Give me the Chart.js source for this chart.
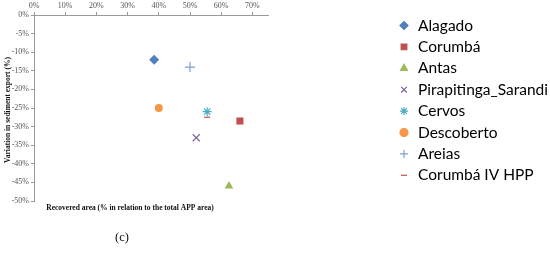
<!DOCTYPE html>
<html>
<head>
<meta charset="utf-8">
<script src="https://cdn.jsdelivr.net/npm/chart.js@4/dist/chart.umd.min.js"></script>
<style>
  html, body { margin:0; padding:0; background:#fff; }
  #wrap { position:relative; width:550px; height:255px; }
</style>
</head>
<body>
<div id="wrap"><canvas id="chart" width="550" height="255"></canvas></div>
<script>
// one point per series
const seriesNames = ['Alagado','Corumbá','Antas','Pirapitinga_Sarandi','Cervos','Descoberto','Areias','Corumbá IV HPP'];
const recoveredArea = [38.5, 66, 62.5, 52, 55.5, 40, 50, 55.5];      // x, %
const sedimentVariation = [-12, -28.5, -46, -33, -26, -25, -14, -27.5]; // y, %
const xTicks = [0, 10, 20, 30, 40, 50, 60, 70];
const yTicks = [0, -5, -10, -15, -20, -25, -30, -35, -40, -45, -50];

const colors = ['#4F81BD','#C0504D','#9BBB59','#8064A2','#4BACC6','#F79646','#7F9FD2','#C0504D'];
const styles = ['rectRot','rect','triangle','crossRot','star','circle','cross','line'];
const radii  = [5, 5, 5, 5, 4.5, 4, 5, 3];

const datasets = seriesNames.map((name,i)=>({
  label: name,
  data: [{ x: recoveredArea[i], y: sedimentVariation[i] }],
  pointStyle: styles[i],
  pointRadius: radii[i],
  pointBackgroundColor: colors[i],
  pointBorderColor: colors[i],
  pointBorderWidth: (styles[i]==='crossRot'||styles[i]==='cross'||styles[i]==='star'||styles[i]==='line') ? 1.2 : 0,
  showLine: false
}));

// legend + axis titles drawn by hand so they sit where the original has them
const extras = {
  id: 'extras',
  afterDraw(chart){
    const ctx = chart.ctx;
    ctx.save();
    // legend
    ctx.font = '15.5px Lato, "Open Sans", sans-serif';
    ctx.textBaseline = 'middle';
    ctx.textAlign = 'left';
    chart.data.datasets.forEach((ds,i)=>{
      const y = 25.5 + i*21.4;
      ctx.fillStyle = colors[i]; ctx.strokeStyle = colors[i];
      ctx.lineWidth = 1.2;
      Chart.helpers.drawPoint(ctx, { pointStyle: styles[i], radius: Math.min(radii[i], 4), rotation: 0, borderWidth: 1.2 }, 404, y);
      ctx.fillStyle = '#000';
      ctx.fillText(ds.label, 418, y);
    });
    // axis titles
    ctx.fillStyle = '#111';
    ctx.font = 'bold 7.5px "Liberation Serif", serif';
    ctx.textAlign = 'center';
    ctx.fillText('Recovered area (% in relation to the total APP area)', 130, 208);
    ctx.save();
    ctx.translate(8, 110);
    ctx.rotate(-Math.PI/2);
    ctx.fillText('Variation in sediment export (%)', 0, 0);
    ctx.restore();
    ctx.font = '12.5px "Liberation Serif", serif';
    ctx.fillText('(c)', 122, 238);
    ctx.restore();
  }
};

new Chart(document.getElementById('chart'), {
  type: 'scatter',
  data: { datasets },
  options: {
    responsive: false,
    animation: false,
    events: [],
    layout: { padding: { left: 0, top: 0, right: 550-268, bottom: 255-201 } },
    plugins: { legend: { display: false }, tooltip: { enabled: false } },
    scales: {
      x: {
        type: 'linear', position: 'top', min: 0, max: 75,
        afterFit: s => { s.height = 15; },
        afterBuildTicks: s => { s.ticks = xTicks.map(v=>({ value: v })); },
        ticks: { includeBounds: false, padding: 1, color: '#555', font: { family: '"Liberation Serif", serif', size: 8 }, callback: v => v + '%' },
        grid: { drawOnChartArea: false, tickLength: 3, color: '#999' },
        border: { color: '#999' }
      },
      y: {
        type: 'linear', min: -50, max: 0,
        afterFit: s => { s.width = 34; },
        afterBuildTicks: s => { s.ticks = yTicks.map(v=>({ value: v })); },
        ticks: { padding: 2, color: '#555', font: { family: '"Liberation Serif", serif', size: 8 }, callback: v => v + '%' },
        grid: { drawOnChartArea: false, tickLength: 3, color: '#999' },
        border: { color: '#999' }
      }
    }
  },
  plugins: [extras]
});
</script>
</body>
</html>
